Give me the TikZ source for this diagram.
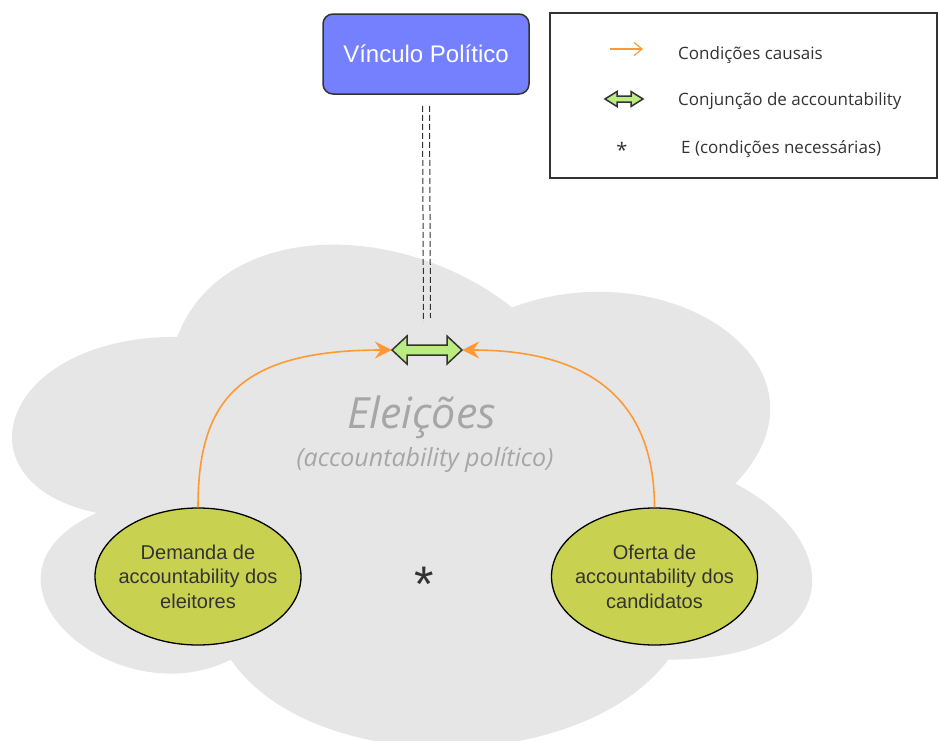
\documentclass[tikz,border=0pt]{standalone}
\usepackage{fontspec}
\setmainfont{Liberation Sans}
\newfontfamily\osans{Open Sans}
\usetikzlibrary{arrows.meta,shapes.geometric,calc}
\definecolor{cloudgray}{RGB}{230,230,230}
\definecolor{linkblue}{RGB}{117,128,255}
\definecolor{ovalgreen}{RGB}{201,210,80}
\definecolor{conjgreen}{RGB}{186,236,130}
\definecolor{causalorange}{RGB}{255,153,51}
\definecolor{inkgray}{RGB}{51,51,51}
\definecolor{titlegray}{RGB}{166,166,166}

\tikzset{
  conjarrow/.style={draw=inkgray, line width=1.5pt, fill=conjgreen, line join=miter},
  % double-headed block arrow: half length / head length / head half-height / body half-height
  pics/dblarrow/.style args={#1/#2/#3/#4}{code={
    \path[conjarrow] (-#1,0) -- ({-#1+#2},-#3) -- ({-#1+#2},-#4) -- ({#1-#2},-#4)
      -- ({#1-#2},-#3) -- (#1,0) -- ({#1-#2},#3) -- ({#1-#2},#4)
      -- ({-#1+#2},#4) -- ({-#1+#2},#3) -- cycle;
  }},
}

\begin{document}
\begin{tikzpicture}[x=1pt,y=-1pt,
  linkbox/.style={draw=inkgray, line width=1.5pt, fill=linkblue, rounded corners=10pt,
    minimum width=206pt, minimum height=80pt, inner sep=0pt, text=white,
    font=\fontsize{24}{28}\selectfont},
  oval/.style={ellipse, draw=black, line width=1.3pt, fill=ovalgreen,
    minimum width=206pt, minimum height=137pt, inner sep=0pt},
  ovaltext/.style={align=center, inner sep=0pt, text=inkgray,
    font=\fontsize{20}{24.5}\selectfont},
  causal/.style={draw=causalorange, line width=1.6pt,
    -{Stealth[length=17pt,width=17pt,inset=6pt]}},
  linkline/.style={draw=inkgray, line width=1pt, dash pattern=on 6pt off 3pt},
  legendtext/.style={anchor=base west, inner sep=0pt, text=inkgray,
    font=\osans\fontsize{17}{20}\selectfont},
]
\useasboundingbox (0,0) rectangle (938,740);

% the election cloud
\begin{scope}
  \clip (0,0) rectangle (938,740);
  \fill[cloudgray] (177.25,336.75)
    .. controls (-1.35,336.75) and (-46,483.5) .. (96.88,512.85)
    .. controls (-46,577.42) and (114.74,718.3) .. (230.83,659.6)
    .. controls (311.2,777) and (579.1,777) .. (668.4,659.6)
    .. controls (847,659.6) and (847,542.2) .. (735.375,483.5)
    .. controls (847,366.1) and (668.4,248.7) .. (512.125,307.4)
    .. controls (400.5,219.35) and (221.9,219.35) .. (177.25,336.75) -- cycle;
\end{scope}

\node[anchor=base, inner sep=0pt, text=titlegray,
  font=\osans\itshape\fontsize{43}{50}\selectfont] (elec) at (421.5,428) {Eleições};
\node[anchor=base, inner sep=0pt, text=titlegray,
  font=\osans\itshape\fontsize{25}{30}\selectfont] (acc) at (425,466) {(accountability político)};

% political link and the accountability conjunction
\node[linkbox] (vinc) at (426,54) {Vínculo Político};
\pic at (427,350) {dblarrow=35/15/14/5};
\node[minimum width=70pt, minimum height=28pt, inner sep=0pt] (conj) at (427,350) {};

\draw[linkline] ($(vinc.south)+(-3.5,11)$) -- ($(conj.north)+(-3.5,-14)$);
\draw[linkline] ($(vinc.south)+(3.5,11)$) -- ($(conj.north)+(3.5,-18)$);

% demand and supply of accountability
\node[oval] (dem) at (198,576.5) {};
\node[ovaltext] (demtxt) at (dem.center) {Demanda de\\accountability dos\\eleitores};
\node[oval] (ofe) at (654.5,576.5) {};
\node[ovaltext] (ofetxt) at (ofe.center) {Oferta de\\accountability dos\\candidatos};
\node[anchor=base, inner sep=0pt, text=inkgray, font=\fontsize{50}{50}\selectfont] (and) at (424,601) {*};

\draw[causal] (dem.north) .. controls +(0,-103) and +(-157,0) .. (conj.west);
\draw[causal] (ofe.north) .. controls +(0,-98) and +(138,0) .. (conj.east);

% legend
\node[draw=inkgray, line width=1.5pt, fill=white, minimum width=387pt,
  minimum height=165pt, inner sep=0pt] (legend) at (743.5,95.5) {};
\coordinate (lgA) at (610,49);
\coordinate (lgB) at (643,49);
\draw[draw=causalorange, line width=1.2pt, -{Straight Barb[length=8pt,width=13pt]}] (lgA) -- (lgB);
\node[legendtext] (lg1) at (678,59) {Condições causais};
\pic at (624,99) {dblarrow=19/12/7.5/3};
\node[legendtext] (lg2) at (678,105) {Conjunção de accountability};
\node[anchor=base, inner sep=0pt, text=inkgray, font=\osans\fontsize{20}{20}\selectfont] (lgstar) at (622,157) {*};
\node[legendtext] (lg3) at (681,153) {E (condições necessárias)};
\end{tikzpicture}
\end{document}
